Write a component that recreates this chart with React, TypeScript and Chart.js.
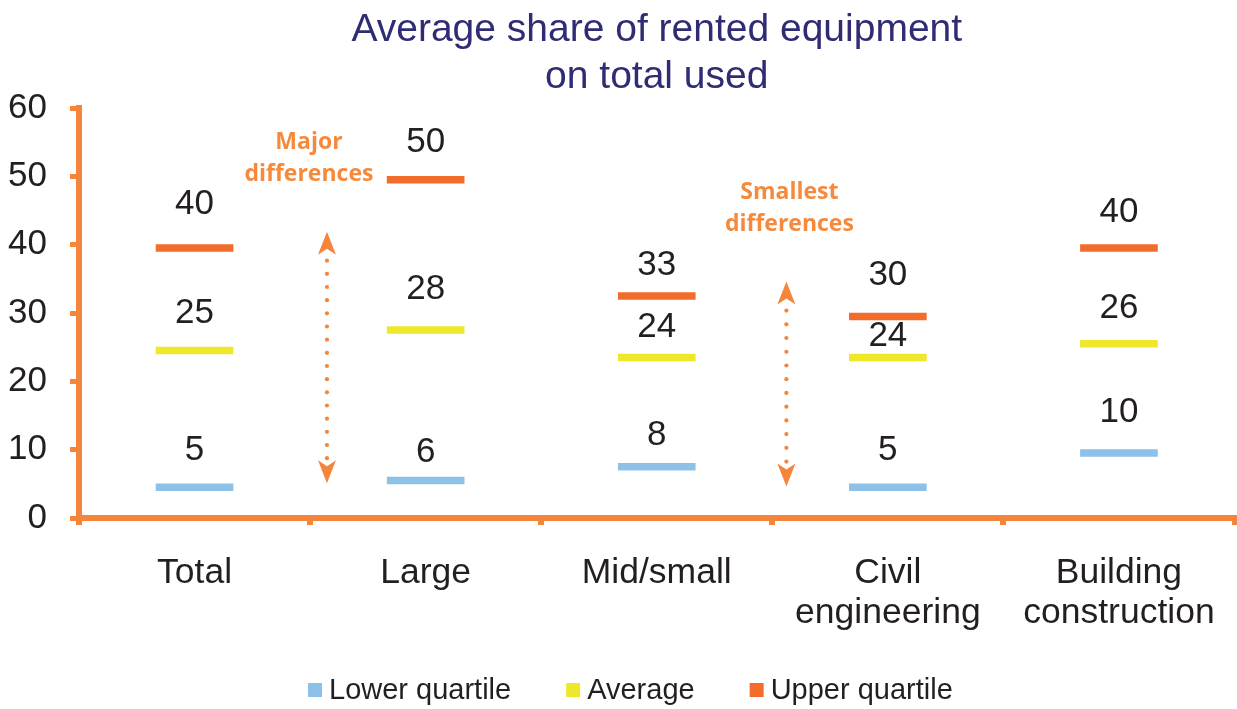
import React, { useEffect, useRef } from 'react';
import { Chart, registerables } from 'chart.js';

Chart.register(...registerables);

// ---------------- data ----------------
const categories: (string | string[])[] = ['Total', 'Large', 'Mid/small', ['Civil', 'engineering'], ['Building', 'construction']];
const seriesNames = ['Lower quartile', 'Average', 'Upper quartile'];
const lowerQuartile = [5, 6, 8, 5, 10];
const average = [25, 28, 24, 24, 26];
const upperQuartile = [40, 50, 33, 30, 40];
const yTickValues = [0, 10, 20, 30, 40, 50, 60];
const titleLines = ['Average share of rented equipment', 'on total used'];

// ---------------- styling ----------------
const FONT = '"Liberation Sans", Arial, Helvetica, sans-serif';
const BOLD_FONT = '"Open Sans", "Liberation Sans", sans-serif';
const TEXT = '#231F20';
const AXIS = '#F5853A';
const NOTE = '#F58A3D';
const TITLE = '#2E2C72';
const seriesColors = ['#8EC1E8', '#EEE72A', '#F26C2B'];
const BAR_DEPTH = 1; // marker thickness in value units
const seriesValues = [lowerQuartile, average, upperQuartile];
// vertical lift (px) of each value label above its marker
const labelLift = [
  [33, 25, 28, 33, 37.5],
  [33.5, 37.7, 27, 18, 31.5],
  [40, 33.5, 27, 38, 32.5],
];
const notes = [
  { lines: ['Major', 'differences'], x: 0.495, y: [54.9, 50.3] },
  { lines: ['Smallest', 'differences'], x: 2.574, y: [47.6, 43.0] },
];
const arrows = [
  { x: 0.573, top: 41.9, bottom: 5.1 },
  { x: 2.561, top: 34.6, bottom: 4.6 },
];

function drawArrow(ctx: CanvasRenderingContext2D, px: number, yTop: number, yBot: number) {
  const headH = 23;
  const headW = 9;
  const notch = 6;
  ctx.fillStyle = AXIS;
  ctx.beginPath();
  ctx.moveTo(px, yTop);
  ctx.lineTo(px + headW, yTop + headH);
  ctx.lineTo(px, yTop + headH - notch);
  ctx.lineTo(px - headW, yTop + headH);
  ctx.closePath();
  ctx.fill();
  ctx.beginPath();
  ctx.moveTo(px, yBot);
  ctx.lineTo(px + headW, yBot - headH);
  ctx.lineTo(px, yBot - headH + notch);
  ctx.lineTo(px - headW, yBot - headH);
  ctx.closePath();
  ctx.fill();
  const first = yTop + 29;
  const last = yBot - 25;
  const n = Math.max(1, Math.round((last - first) / 13.3));
  const step = (last - first) / n;
  for (let i = 0; i <= n; i++) {
    ctx.beginPath();
    ctx.arc(px, first + i * step, 2.1, 0, Math.PI * 2);
    ctx.fill();
  }
}

const overlayPlugin = {
  id: 'overlay',
  afterDatasetsDraw(chart: any) {
    const { ctx } = chart;
    const xs = chart.scales.x;
    const ys = chart.scales.y;
    ctx.save();
    // value labels
    ctx.font = `35px ${FONT}`;
    ctx.fillStyle = TEXT;
    ctx.textAlign = 'center';
    ctx.textBaseline = 'middle';
    seriesValues.forEach((vals, i) => {
      vals.forEach((v, j) => {
        ctx.fillText(String(v), xs.getPixelForValue(j), ys.getPixelForValue(v) - labelLift[i][j]);
      });
    });
    // notes
    ctx.font = `bold 23px ${BOLD_FONT}`;
    ctx.fillStyle = NOTE;
    notes.forEach((n) => {
      n.lines.forEach((line, k) => {
        ctx.fillText(line, xs.getPixelForValue(n.x), ys.getPixelForValue(n.y[k]));
      });
    });
    // arrows
    arrows.forEach((a) => {
      drawArrow(ctx, xs.getPixelForValue(a.x), ys.getPixelForValue(a.top), ys.getPixelForValue(a.bottom));
    });
    // legend
    ctx.font = `29px ${FONT}`;
    ctx.textAlign = 'left';
    let cx = 308;
    const ly = 691;
    seriesNames.forEach((name, i) => {
      ctx.fillStyle = seriesColors[i];
      ctx.fillRect(cx, ly - 8, 14, 14);
      cx += 21;
      ctx.fillStyle = TEXT;
      ctx.fillText(name, cx, ly);
      cx += ctx.measureText(name).width + 55;
    });
    ctx.restore();
  },
};

export default function App() {
  const ref = useRef<HTMLCanvasElement>(null);
  useEffect(() => {
    if (!ref.current) return;
    const chart = new Chart(ref.current, {
      type: 'bar',
      data: {
        labels: categories,
        datasets: seriesNames.map((name, i) => ({
          label: name,
          data: seriesValues[i].map((v) => [v - BAR_DEPTH, v]),
          backgroundColor: seriesColors[i],
          borderWidth: 0,
          grouped: false,
          barThickness: 77,
        })) as any,
      },
      options: {
        responsive: false,
        animation: false,
        layout: { padding: { left: 0, right: 2.5, top: 0, bottom: 0 } },
        plugins: {
          legend: { display: false },
          tooltip: { enabled: false },
          title: {
            display: true,
            text: titleLines,
            fullSize: false,
            color: TITLE,
            font: { family: FONT, size: 39, weight: 'normal', lineHeight: 1.2 },
            padding: { top: 7, bottom: 7.4 },
          },
        },
        scales: {
          x: {
            type: 'category',
            offset: true,
            afterFit: (scale: any) => {
              scale.height = 191;
              scale.paddingLeft = 0;
              scale.paddingRight = 0;
            },
            border: { color: AXIS, width: 6 },
            grid: { drawOnChartArea: false, color: AXIS, lineWidth: 6, tickLength: 7, offset: true },
            ticks: {
              color: TEXT,
              font: { family: FONT, size: 35.5, lineHeight: 1.13 },
              padding: 28,
              maxRotation: 0,
              autoSkip: false,
            },
          },
          y: {
            min: 0,
            max: 60,
            afterFit: (scale: any) => {
              scale.width = 79;
            },
            afterBuildTicks: (scale: any) => {
              scale.ticks = yTickValues.map((v) => ({ value: v }));
            },
            border: { color: AXIS, width: 6 },
            grid: { drawOnChartArea: false, color: AXIS, lineWidth: 5, tickLength: 9 },
            ticks: {
              color: TEXT,
              font: { family: FONT, size: 35 },
              padding: 23,
            },
          },
        },
      },
      plugins: [overlayPlugin],
    });
    return () => chart.destroy();
  }, []);
  return (
    <div style={{ position: 'fixed', left: 0, top: 0, width: 1237, height: 709, background: '#fff' }}>
      <canvas ref={ref} width={1237} height={709} style={{ display: 'block' }} />
    </div>
  );
}
